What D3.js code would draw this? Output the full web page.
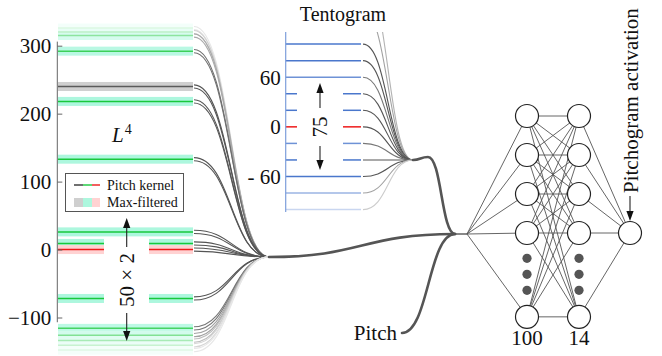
<!DOCTYPE html>
<html>
<head>
<meta charset="utf-8">
<script src="https://cdn.jsdelivr.net/npm/d3@7"></script>
</head>
<body style="margin:0">
<svg id="chart" width="662" height="356" style="display:block;font-family:'Liberation Serif'"></svg>
<script>
// ---- data -------------------------------------------------------------
// L^4 axis ticks
const lTicks = [300, 200, 100, 0, -100];
// pitch-kernel offsets on the L^4 axis
const kernelValues = [326, 320, 315, 292, 240, 218, 133, 26, 9, 0, -72, -116, -126, -134, -141, -148];
// harmonic (green), sub-harmonic (gray) or fundamental (red)
const kernelKinds  = ["harm", "harm", "harm", "harm", "sub", "harm", "harm", "harm", "harm", "root", "harm", "harm", "harm", "harm", "harm", "harm"];
const kernelAlpha  = [0.15, 0.28, 0.5, 0.85, 1, 1, 1, 1, 1, 1, 1, 0.8, 0.55, 0.38, 0.24, 0.14];
const kernelSplit  = [0, 0, 0, 0, 0, 0, 0, 0, 1, 1, 1, 0, 0, 0, 0, 0];

// tentogram offsets
const tentoValues = [180, 140, 100, 80, 60, 40, 20, 0, -20, -40, -60, -80, -100];
const tentoAlpha  = [0.45, 0.55, 1, 1, 0.8, 1, 1, 1, 0.8, 1, 1, 0.55, 0.3];
const tentoSplit  = [0, 0, 0, 0, 0, 1, 1, 1, 1, 1, 0, 0, 0];
const tTicks = [60, 0, -60];

// network
const layerLabels = ["100", "14"];
const nodeRows = [0, 1, 2, 3, 5.15];
const ellipsisRows = [3.65, 4.06, 4.47];

// ---- layout -----------------------------------------------------------
const SERIF = '"Liberation Serif"';
const svg = d3.select("#chart");
const C = {
  green: "#19c83c", cyan: "#adf7de",
  red: "#ee1a1a", pink: "#ffd2d2",
  gray: "#5a5a5a", grayBand: "#cfcfcf",
  blue: "#4a77cc", curve: "#555"
};
const kindLine = { harm: C.green, sub: C.gray, root: C.red };
const kindBand = { harm: C.cyan, sub: C.grayBand, root: C.pink };

const yL = d3.scaleLinear().domain([-100, 300]).range([317.5, 45.7]);
const yT = d3.scaleLinear().domain([-60, 60]).range([176.5, 77.2]);
const yN = d3.scaleLinear().domain([0, 1]).range([116, 155]);

const L = { x0: 58, x1: 193, gapA: 104, gapB: 149, curveX: 194, hubX: 269, hubV: -11 };
const T = { x0: 285.7, x1: 361, gapA: 297, gapB: 343, curveX: 363, hubX: 413, hubV: -40 };
const merge = [455, 234], fan = [467, 234];
const xN = [527, 579, 630];
const R = 11.5;

const link = d3.linkHorizontal().x(d => d[0]).y(d => d[1]);
const mixWhite = (c, a) => d3.interpolateRgb("#ffffff", c)(a);

function segments(split, x0, x1, a, b) {
  return split ? [[x0, a], [b, x1]] : [[x0, x1]];
}

function label(g, txt, size) {
  return g.append("text").style("font-family", SERIF).style("font-size", size + "px")
    .style("fill", "#111").text(txt);
}

function arrow(g, x, yFrom, yTo) {
  const dir = yTo < yFrom ? -1 : 1;
  g.append("line").attr("x1", x).attr("x2", x)
    .attr("y1", yFrom).attr("y2", yTo - dir * 8)
    .attr("stroke", "#222").attr("stroke-width", 1.1);
  g.append("path")
    .attr("d", `M${x},${yTo} L${x - 3.6},${yTo - dir * 10} L${x + 3.6},${yTo - dir * 10} Z`)
    .attr("fill", "#111");
}

// ---- L^4 panel --------------------------------------------------------
const gL = svg.append("g");
const kernel = kernelValues.map((v, i) => ({
  v, kind: kernelKinds[i], a: kernelAlpha[i], split: kernelSplit[i]
}));

// max-filtered bands
kernel.forEach(k => {
  segments(k.split, L.x0, L.x1, L.gapA, L.gapB).forEach(([a, b]) => {
    gL.append("rect")
      .attr("x", a).attr("width", b - a)
      .attr("y", yL(k.v) - 4.5).attr("height", 9)
      .attr("fill", mixWhite(kindBand[k.kind], k.a));
  });
});
// kernel lines
kernel.forEach(k => {
  segments(k.split, L.x0, L.x1, L.gapA, L.gapB).forEach(([a, b]) => {
    gL.append("line")
      .attr("x1", a).attr("x2", b)
      .attr("y1", yL(k.v)).attr("y2", yL(k.v))
      .attr("stroke", mixWhite(kindLine[k.kind], k.a))
      .attr("stroke-width", 1.5);
  });
});
// curves converging on the L^4 hub
const hubL = [L.hubX, yL(L.hubV)];
kernel.forEach(k => {
  [-1.6, 1.6].forEach(off => {
    gL.append("path")
      .attr("d", link({ source: [L.curveX, yL(k.v) + off], target: hubL }))
      .attr("fill", "none")
      .attr("stroke", mixWhite(C.curve, k.a))
      .attr("stroke-width", 1.1);
  });
});

// axis
gL.append("line").attr("x1", L.x0 - 0.7).attr("x2", L.x0 - 0.7)
  .attr("y1", yL(306)).attr("y2", yL(-107))
  .attr("stroke", "#666").attr("stroke-width", 1);
const axL = d3.axisLeft(yL).tickValues(lTicks).tickSizeInner(-5).tickSizeOuter(0).tickPadding(6);
const gAxL = gL.append("g").attr("transform", `translate(${L.x0 - 0.7},0)`).call(axL)
  .attr("font-family", null).attr("font-size", null);
gAxL.select(".domain").remove();
gAxL.selectAll(".tick line").attr("stroke", "#666");
gAxL.selectAll(".tick text").attr("fill", "#111").attr("dy", "0.34em")
  .style("font-family", SERIF).style("font-size", "21px");

// L^4 label
const lab = gL.append("text").attr("x", 112).attr("y", 142)
  .style("font-family", SERIF).style("font-size", "21px").style("fill", "#111");
lab.append("tspan").style("font-style", "italic").text("L");
lab.append("tspan").style("font-size", "14px").attr("dy", -8).attr("dx", 1).text("4");

// "50 × 2" span with arrows
arrow(gL, 126.7, 247, 218);
arrow(gL, 126.7, 313, 341);
label(gL, "50 × 2", 21)
  .attr("transform", `translate(${126.7 + 7},${280}) rotate(-90)`)
  .attr("text-anchor", "middle");

// legend
const lg = gL.append("g");
lg.append("rect").attr("x", 65.5).attr("y", 173.5).attr("width", 118).attr("height", 38)
  .attr("fill", "#fff").attr("stroke", "#555").attr("stroke-width", 1);
[["#333", 74, 83], [C.green, 83, 92], [C.red, 92, 100]].forEach(([c, a, b]) => {
  lg.append("line").attr("x1", a).attr("x2", b).attr("y1", 185).attr("y2", 185)
    .attr("stroke", c).attr("stroke-width", 1.4);
});
[[C.grayBand, 74, 83], [C.cyan, 83, 92], [C.pink, 92, 100]].forEach(([c, a, b]) => {
  lg.append("rect").attr("x", a).attr("width", b - a).attr("y", 198).attr("height", 9).attr("fill", c);
});
label(lg, "Pitch kernel", 14).attr("x", 107).attr("y", 190);
label(lg, "Max-filtered", 14).attr("x", 107).attr("y", 207);

// ---- Tentogram panel --------------------------------------------------
const gT = svg.append("g");
svg.append("defs").append("clipPath").attr("id", "tclip")
  .append("rect").attr("x", 260).attr("y", 32).attr("width", 200).attr("height", 180);
const gTc = gT.append("g").attr("clip-path", "url(#tclip)");

const tento = tentoValues.map((v, i) => ({ v, a: tentoAlpha[i], split: tentoSplit[i] }));
const hubT = [T.hubX, yT(T.hubV)];
tento.forEach(t => {
  const color = t.v === 0 ? C.red : C.blue;
  segments(t.split, T.x0, T.x1, T.gapA, T.gapB).forEach(([a, b]) => {
    gTc.append("line").attr("x1", a).attr("x2", b)
      .attr("y1", yT(t.v)).attr("y2", yT(t.v))
      .attr("stroke", mixWhite(color, t.a)).attr("stroke-width", 1.5);
  });
  gTc.append("path")
    .attr("d", link({ source: [T.curveX, yT(t.v)], target: hubT }))
    .attr("fill", "none")
    .attr("stroke", mixWhite(C.curve, t.a))
    .attr("stroke-width", 1.1);
});
gT.append("line").attr("x1", T.x0).attr("x2", T.x0)
  .attr("y1", 32).attr("y2", 212)
  .attr("stroke", "#7d9edb").attr("stroke-width", 1.2);

const axT = d3.axisLeft(yT).tickValues(tTicks).tickSize(0).tickPadding(5)
  .tickFormat(d => d < 0 ? "- " + Math.abs(d) : String(d));
const gAxT = gT.append("g").attr("transform", `translate(${T.x0},0)`).call(axT)
  .attr("font-family", null).attr("font-size", null);
gAxT.select(".domain").remove();
gAxT.selectAll(".tick text").attr("fill", "#111").attr("dy", "0.34em")
  .style("font-family", SERIF).style("font-size", "21px");

label(gT, "Tentogram", 20).attr("x", 343).attr("y", 21).attr("text-anchor", "middle");

arrow(gT, 320, 108, 83);
arrow(gT, 320, 146, 170);
label(gT, "75", 21)
  .attr("transform", `translate(${320 + 7},${127}) rotate(-90)`)
  .attr("text-anchor", "middle");

// ---- thick connectors into the network --------------------------------
const gC = svg.append("g").attr("fill", "none").attr("stroke", "#555")
  .attr("stroke-width", 2.6).attr("stroke-linecap", "round");
gC.append("path").attr("d", link({ source: hubL, target: merge }));
const bump = [428, yT(T.hubV) - 3];
gC.append("path").attr("d", link({ source: hubT, target: bump }) + link({ source: bump, target: merge }).replace(/^M[^C]*/, ""));
const pitchStart = [402, 333];
gC.append("path").attr("d", link({ source: pitchStart, target: merge }));
label(svg, "Pitch", 21).attr("x", 397).attr("y", 340).attr("text-anchor", "end");

// ---- network ----------------------------------------------------------
const gN = svg.append("g");
const edges = gN.append("g").attr("stroke", "#555").attr("stroke-width", 0.9);
edges.append("line").attr("x1", merge[0]).attr("x2", fan[0])
  .attr("y1", merge[1]).attr("y2", fan[1]).attr("stroke-width", 1.4);
nodeRows.forEach(r => {
  edges.append("line").attr("x1", fan[0]).attr("y1", fan[1]).attr("x2", xN[0]).attr("y2", yN(r));
});
nodeRows.forEach(r1 => nodeRows.forEach(r2 => {
  edges.append("line").attr("x1", xN[0]).attr("y1", yN(r1)).attr("x2", xN[1]).attr("y2", yN(r2));
}));
nodeRows.forEach(r => {
  edges.append("line").attr("x1", xN[1]).attr("y1", yN(r)).attr("x2", xN[2]).attr("y2", yN(3));
});

[0, 1].forEach(li => {
  nodeRows.forEach(r => {
    gN.append("circle").attr("cx", xN[li]).attr("cy", yN(r)).attr("r", R)
      .attr("fill", "#fff").attr("stroke", "#222").attr("stroke-width", 1.2);
  });
  ellipsisRows.forEach(r => {
    gN.append("circle").attr("cx", xN[li]).attr("cy", yN(r)).attr("r", 4.6).attr("fill", "#555");
  });
  label(gN, layerLabels[li], 21).attr("x", xN[li]).attr("y", 345).attr("text-anchor", "middle");
});
gN.append("circle").attr("cx", xN[2]).attr("cy", yN(3)).attr("r", R)
  .attr("fill", "#fff").attr("stroke", "#222").attr("stroke-width", 1.2);

arrow(gN, xN[2], 196, yN(3) - R - 0.5);
label(gN, "Pitchogram activation", 21)
  .attr("transform", `translate(${638},${193}) rotate(-90)`);
</script>
</body>
</html>
